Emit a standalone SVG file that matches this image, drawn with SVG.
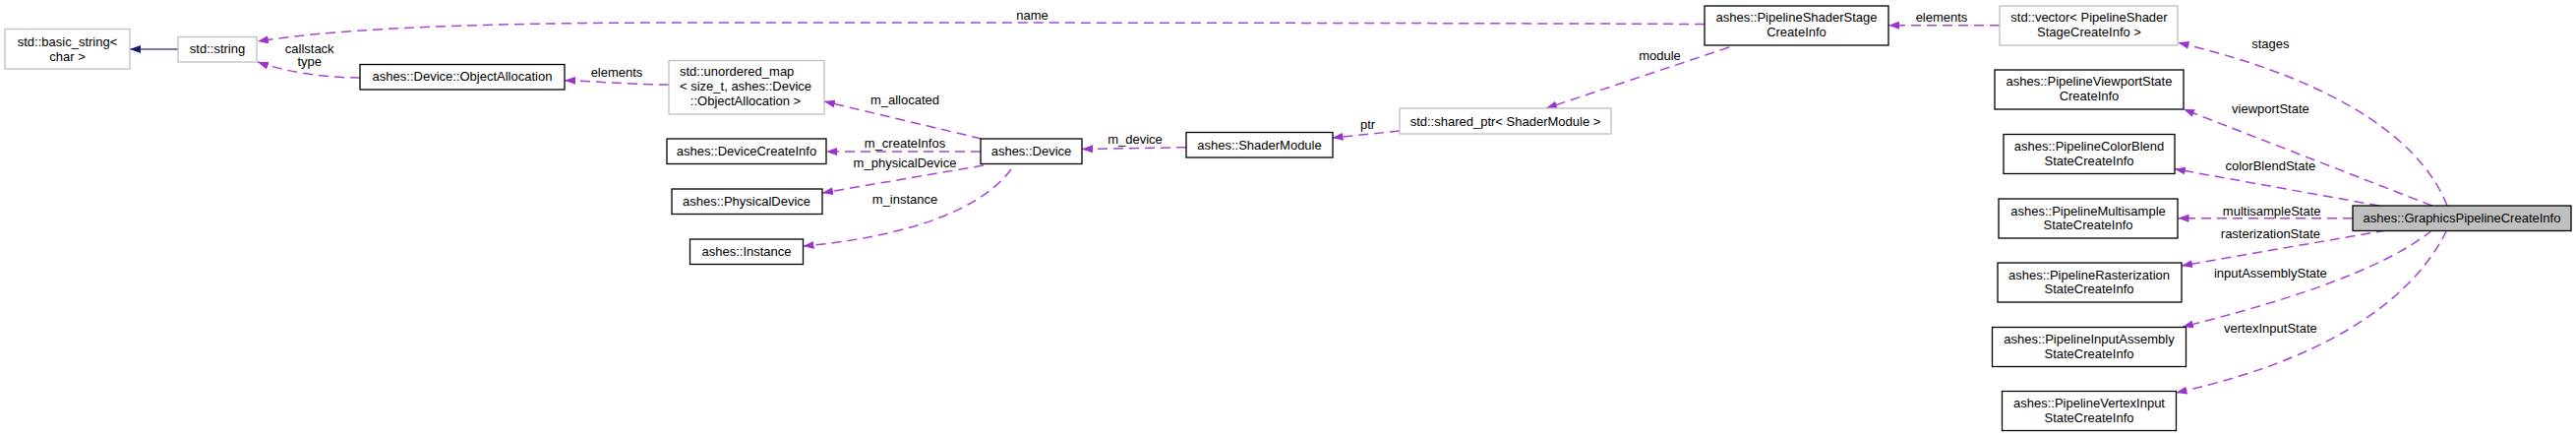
<svg xmlns="http://www.w3.org/2000/svg" width="2619" height="444" viewBox="0 0 2619 444">
<defs>
<marker id="ap" markerUnits="userSpaceOnUse" markerWidth="11" markerHeight="8" refX="11" refY="4" orient="auto"><path d="M0,0 L11,4 L0,8 z" fill="#9a32cd"/></marker>
<marker id="an" markerUnits="userSpaceOnUse" markerWidth="11" markerHeight="8" refX="11" refY="4" orient="auto"><path d="M0,0 L11,4 L0,8 z" fill="#191970"/></marker>
<style>
text{font-family:"Liberation Sans",Arial,sans-serif;font-size:13px;fill:#000}
.n rect{fill:#fff;stroke:#000;stroke-width:1.3}
.g rect{fill:#fff;stroke:#bfbfbf;stroke-width:1.3}
.c{text-anchor:middle}
.e path{fill:none;stroke:#a545d6;stroke-width:1.5;stroke-dasharray:10,6;marker-end:url(#ap)}
.e path.inh{stroke:#4b4b8f;stroke-width:1.6;stroke-dasharray:none;marker-end:url(#an)}
</style>
</defs>
<rect width="2619" height="444" fill="#fff"/>
<g id="edges" class="e">
<path class="inh" d="M181,50 L132,50"/>
<path d="M366,79 C330,79 290,73 262,63"/>
<path d="M1733,24.5 C1400,23 900,23 700,23 C500,23 350,28 262,42"/>
<path d="M2033,25.7 L1920,25.7"/>
<path d="M680,86 C640,86 600,82 574,81.7"/>
<path d="M998,141 L838,103"/>
<path d="M997,154 L840,154"/>
<path d="M1000,168 L836,196"/>
<path d="M1028,172 C1000,210 930,240 816.5,250"/>
<path d="M1206,149.7 L1100,151.5"/>
<path d="M1423,133 L1354.5,140"/>
<path d="M1758,48 L1572,110"/>
<path d="M2488,209 C2465,150 2390,85 2214.5,43.3"/>
<path d="M2472.7,209 L2220,111"/>
<path d="M2419,209 L2211,171.7"/>
<path d="M2392,221.7 L2214.5,221.7"/>
<path d="M2426,234 L2218,270"/>
<path d="M2472.7,234 Q2410,285 2219,332"/>
<path d="M2487.6,234 C2460,290 2390,360 2212.4,399"/>
</g>
<g id="labels">
<text class="c" x="314.7" y="53.5">callstack</text>
<text class="c" x="314.7" y="67">type</text>
<text class="c" x="627" y="78">elements</text>
<text class="c" x="1049.5" y="19.5">name</text>
<text class="c" x="920" y="105.5">m_allocated</text>
<text class="c" x="920" y="150">m_createInfos</text>
<text class="c" x="920" y="170">m_physicalDevice</text>
<text class="c" x="920" y="207">m_instance</text>
<text class="c" x="1154" y="146">m_device</text>
<text class="c" x="1390.6" y="131">ptr</text>
<text class="c" x="1687.5" y="61">module</text>
<text class="c" x="1974" y="22">elements</text>
<text class="c" x="2308.4" y="49">stages</text>
<text class="c" x="2308.4" y="114.5">viewportState</text>
<text class="c" x="2308.4" y="173">colorBlendState</text>
<text class="c" x="2309.7" y="218.5">multisampleState</text>
<text class="c" x="2308.4" y="242">rasterizationState</text>
<text class="c" x="2308.4" y="282">inputAssemblyState</text>
<text class="c" x="2308.4" y="338">vertexInputState</text>
</g>
<g id="basic_string" class="g"><rect x="5" y="29.5" width="127" height="40.5"/><text class="c" x="68.5" y="46.5">std::basic_string&lt;</text><text class="c" x="68.5" y="61.5">char &gt;</text></g>
<g id="string" class="g"><rect x="181" y="37.5" width="80" height="25.5"/><text class="c" x="221" y="54">std::string</text></g>
<g id="ObjectAllocation" class="n"><rect x="366" y="65.5" width="208" height="25.5"/><text class="c" x="470" y="81.5">ashes::Device::ObjectAllocation</text></g>
<g id="unordered_map" class="g"><rect x="680" y="61.5" width="158" height="54.5"/><text x="691" y="77">std::unordered_map</text><text x="691" y="92">&lt; size_t, ashes::Device</text><text class="c" x="758" y="107">::ObjectAllocation &gt;</text></g>
<g id="DeviceCreateInfo" class="n"><rect x="678" y="141" width="162" height="25.5"/><text class="c" x="759" y="157.5">ashes::DeviceCreateInfo</text></g>
<g id="PhysicalDevice" class="n"><rect x="683" y="192" width="153" height="25.5"/><text class="c" x="759" y="208.5">ashes::PhysicalDevice</text></g>
<g id="Instance" class="n"><rect x="701.5" y="243" width="115" height="25.5"/><text class="c" x="759" y="259.5">ashes::Instance</text></g>
<g id="Device" class="n"><rect x="997" y="141" width="103" height="25.5"/><text class="c" x="1048.5" y="157.5">ashes::Device</text></g>
<g id="ShaderModule" class="n"><rect x="1206" y="134.5" width="149" height="25.5"/><text class="c" x="1280.5" y="151.5">ashes::ShaderModule</text></g>
<g id="shared_ptr" class="g"><rect x="1423" y="110" width="215" height="26"/><text class="c" x="1530.5" y="127.5">std::shared_ptr&lt; ShaderModule &gt;</text></g>
<g id="PipelineShaderStageCreateInfo" class="n"><rect x="1733" y="6" width="187" height="40"/><text class="c" x="1826.5" y="22">ashes::PipelineShaderStage</text><text class="c" x="1826.5" y="37">CreateInfo</text></g>
<g id="vector" class="g"><rect x="2033" y="6" width="181" height="40"/><text class="c" x="2124" y="22">std::vector&lt; PipelineShader</text><text class="c" x="2124" y="37">StageCreateInfo &gt;</text></g>
<g id="ViewportState" class="n"><rect x="2028" y="71" width="192" height="40"/><text class="c" x="2124" y="87">ashes::PipelineViewportState</text><text class="c" x="2124" y="102">CreateInfo</text></g>
<g id="ColorBlend" class="n"><rect x="2037" y="136.5" width="174" height="40"/><text class="c" x="2124" y="153">ashes::PipelineColorBlend</text><text class="c" x="2124" y="167.5">StateCreateInfo</text></g>
<g id="Multisample" class="n"><rect x="2032" y="202" width="182" height="40"/><text class="c" x="2123" y="218.5">ashes::PipelineMultisample</text><text class="c" x="2123" y="233">StateCreateInfo</text></g>
<g id="GraphicsPipelineCreateInfo"><rect x="2392" y="209" width="222" height="25.5" fill="#bfbfbf" stroke="#000" stroke-width="1.3"/><text class="c" x="2503" y="225.5">ashes::GraphicsPipelineCreateInfo</text></g>
<g id="Rasterization" class="n"><rect x="2031" y="267" width="187" height="40"/><text class="c" x="2124" y="283.5">ashes::PipelineRasterization</text><text class="c" x="2124" y="298">StateCreateInfo</text></g>
<g id="InputAssembly" class="n"><rect x="2025.5" y="332.5" width="197" height="40"/><text class="c" x="2124" y="349">ashes::PipelineInputAssembly</text><text class="c" x="2124" y="363.5">StateCreateInfo</text></g>
<g id="VertexInput" class="n"><rect x="2035.5" y="397.5" width="177" height="40"/><text class="c" x="2124" y="414">ashes::PipelineVertexInput</text><text class="c" x="2124" y="428.5">StateCreateInfo</text></g>
</svg>
